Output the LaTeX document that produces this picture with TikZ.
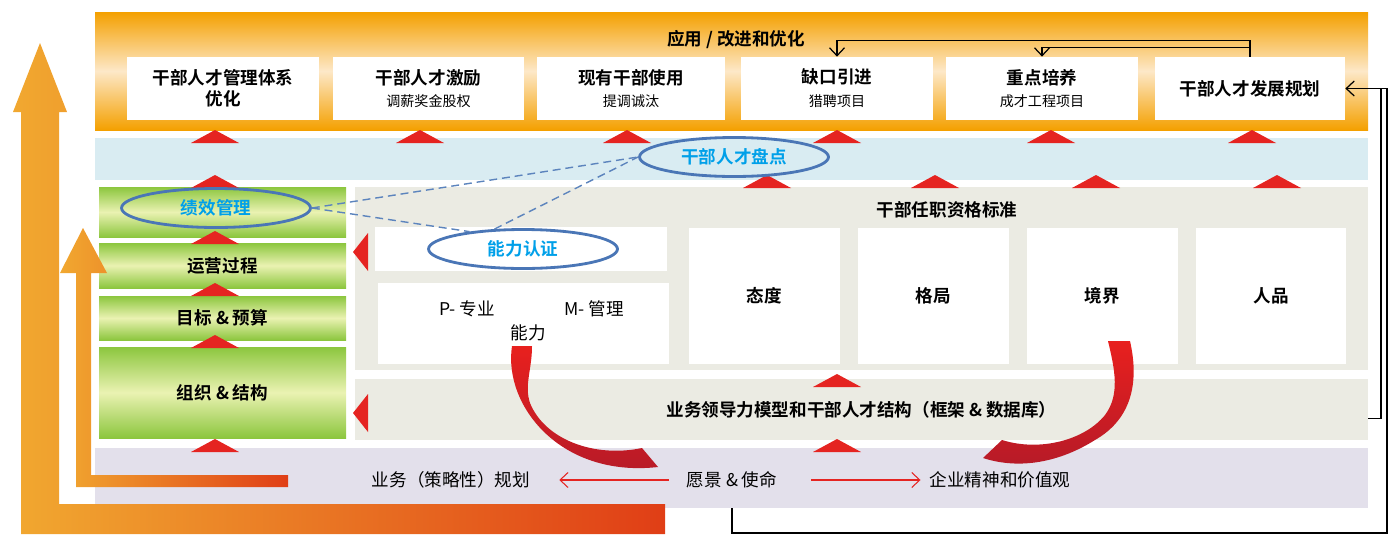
\documentclass[tikz,border=0pt]{standalone}
\usepackage{fontspec}
\setmainfont{Noto Sans CJK SC}[BoldFont={Noto Sans CJK SC Bold}]
\usetikzlibrary{fit,shapes.geometric,arrows.meta}
\definecolor{orangeD}{HTML}{F4A000}
\definecolor{orangeL}{HTML}{FDE8C8}
\definecolor{skyband}{HTML}{D9ECF2}
\definecolor{greyband}{HTML}{EBEBE3}
\definecolor{lilacband}{HTML}{E3E0EB}
\definecolor{greenD}{HTML}{8CC63E}
\definecolor{greenL}{HTML}{EAF2B2}
\definecolor{ringblue}{HTML}{4A76B6}
\definecolor{ringtext}{HTML}{00A0E9}
\definecolor{redtri}{HTML}{E52421}
\definecolor{swooshA}{HTML}{E8201E}
\definecolor{swooshB}{HTML}{B51A28}
\definecolor{arrowL}{HTML}{F1A830}
\definecolor{arrowR}{HTML}{E03E16}
\newcommand\upmark[2]{\fill[tri] (#1-24,#2+13) -- (#1,#2) -- (#1+24,#2+13) -- cycle;}
\newcommand\sidemark[1]{\fill[tri] (368,#1-19) -- (353,#1) -- (368,#1+19) -- cycle;}
\begin{document}
\begin{tikzpicture}[x=0.02cm,y=-0.02cm,
  band/.style={inner sep=0pt},
  card/.style={fill=white,inner sep=0pt},
  cardtext/.style={align=center,font=\bfseries},
  greenbar/.style={inner sep=0pt,top color=greenD,bottom color=greenD,middle color=greenL},
  ring/.style={ellipse,draw=ringblue,line width=1.6pt,minimum width=3.78cm,minimum height=0.78cm,inner sep=0pt,font=\bfseries,text=ringtext},
  tri/.style={fill=redtri},
  link/.style={ringblue!90,line width=0.8pt,dash pattern=on 4.5pt off 2.8pt},
  feed/.style={line width=0.7pt,-{Straight Barb[length=1.6mm,width=3mm]}},
  redlink/.style={redtri,line width=0.6pt,-{Straight Barb[length=1.6mm,width=3mm]}}
]
\useasboundingbox (0,0) rectangle (1400,548);

% bands
\node (apply) [band,top color=orangeD,bottom color=orangeD,middle color=orangeL,fit={(95,12)(1368,130)}] {};
\node (review) [band,fill=skyband,fit={(95,138)(1368,180)}] {};
\node (qual) [band,fill=greyband,fit={(355,187)(1368,370)}] {};
\node (lead) [band,fill=greyband,fit={(355,379)(1368,440)},
  label={[cardtext]center:业务领导力模型和干部人才结构（框架 \& 数据库）}] {};
\node (base) [band,fill=lilacband,fit={(95,448)(1368,508)}] {};

% top row
\node (applytitle) [font=\bfseries] at (736,40) {应用 / 改进和优化};
\node (system) [card,fit={(127,57)(319,120)},label={[cardtext]center:干部人才管理体系\\优化}] {};
\node (reward) [card,fit={(333,57)(524,120)},label={[cardtext]center:干部人才激励\\[1pt]{\normalfont\footnotesize 调薪奖金股权}}] {};
\node (use) [card,fit={(537,57)(725,120)},label={[cardtext]center:现有干部使用\\[1pt]{\normalfont\footnotesize 提调诚汰}}] {};
\node (gap) [card,fit={(741,57)(933,120)},label={[cardtext]center:缺口引进\\[1pt]{\normalfont\footnotesize 猎聘项目}}] {};
\node (train) [card,fit={(946,57)(1138,120)},label={[cardtext]center:重点培养\\[1pt]{\normalfont\footnotesize 成才工程项目}}] {};
\node (plan) [card,fit={(1155,57)(1345,120)},label={[cardtext]center:干部人才发展规划}] {};

% left column
\node (perfbar) [greenbar,fit={(99,187)(346,237)}] {};
\node (ops) [greenbar,fit={(99,243)(346,288)},label={[cardtext]center:运营过程}] {};
\node (goal) [greenbar,fit={(99,296)(346,340)},label={[cardtext]center:目标 \& 预算}] {};
\node (org) [greenbar,fit={(99,347)(346,438)},label={[cardtext]center:组织 \& 结构}] {};

% qualification standard
\node (qualtitle) [font=\bfseries] at (947,210) {干部任职资格标准};
\node (certbox) [card,fit={(375,227)(667,271)}] {};
\node (pmbox) [card,fit={(378,283)(669,364)}] {};
\node (pro) at (467,309) {P- 专业};
\node (mgr) at (594,309) {M- 管理};
\node (ability) at (528,333) {能力};
\node (attitude) [card,fit={(689,228)(840,364)},label={[cardtext]center:态度}] {};
\node (scope) [card,fit={(858,228)(1009,364)},label={[cardtext]center:格局}] {};
\node (realm) [card,fit={(1027,228)(1178,364)},label={[cardtext]center:境界}] {};
\node (virtue) [card,fit={(1196,228)(1346,364)},label={[cardtext]center:人品}] {};

% base row
\node (strategy) at (451,480) {业务（策略性）规划};
\node (vision) at (732,480) {愿景 \& 使命};
\node (spirit) at (1000,480) {企业精神和价值观};
\draw[redlink] ([xshift=-0.24cm]vision.west) -- ([xshift=0.46cm]strategy.east);
\draw[redlink] ([xshift=0.56cm]vision.east) -- ([xshift=-0.06cm]spirit.west);

% red marks
\foreach \x in {215,420,627,837,1051,1252} {\upmark{\x}{130}}
\foreach \x in {215,767,935,1096,1277} {\upmark{\x}{175}}
\foreach \y in {231,283,335,439} {\upmark{215}{\y}}
\upmark{837}{374}
\upmark{837}{439}
\sidemark{252}
\sidemark{413}

% rising arrows
\shade[left color=arrowL,right color=arrowR] (21,534) -- (21,112) -- (13,112) -- (40,43) -- (67,112) -- (59,112) -- (59,504) -- (665,504) -- (665,534) -- cycle;
\shade[left color=arrowL,right color=arrowR] (76,487) -- (76,273) -- (60,273) -- (83,228) -- (107,273) -- (91,273) -- (91,475) -- (288,475) -- (288,487) -- cycle;

% rings
\node (talent) [ring] at (734,157) {干部人才盘点};
\node (perf) [ring] at (216,208) {绩效管理};
\node (cert) [ring] at (523,249) {能力认证};
\draw[link] (perf.east) -- (talent.west);
\draw[link] (perf.east) -- (cert.162);
\draw[link] (cert.145) -- (talent.west);

% feedback lines
\coordinate (loopcorner) at (1387,533);
\coordinate (loopjoin) at (1381,88);
\draw[feed] (plan.north) -- ++(0,-16) -| (gap.north);
\draw[feed] (plan.north) ++(0,-9) -| (train.north);
\draw[feed] (vision |- base.south) |- (loopcorner) |- (plan.east);
\draw[line width=0.7pt] ([yshift=-0.18cm]lead.east) -| (loopjoin);

% swooshes
\shade[top color=swooshA,bottom color=swooshB] (512,346) .. controls (503,405) and (560,478) .. (658,467) -- (642,448)
  .. controls (595,458) and (545,440) .. (530,403) .. controls (524,385) and (532,370) .. (532,346) -- cycle;
\shade[top color=swooshA,bottom color=swooshB] (1130,341) .. controls (1140,385) and (1130,420) .. (1095,440)
  .. controls (1060,462) and (1020,470) .. (983,458) -- (1002,440)
  .. controls (1040,452) and (1085,440) .. (1105,415) .. controls (1120,395) and (1115,370) .. (1108,341) -- cycle;
\end{tikzpicture}
\end{document}
